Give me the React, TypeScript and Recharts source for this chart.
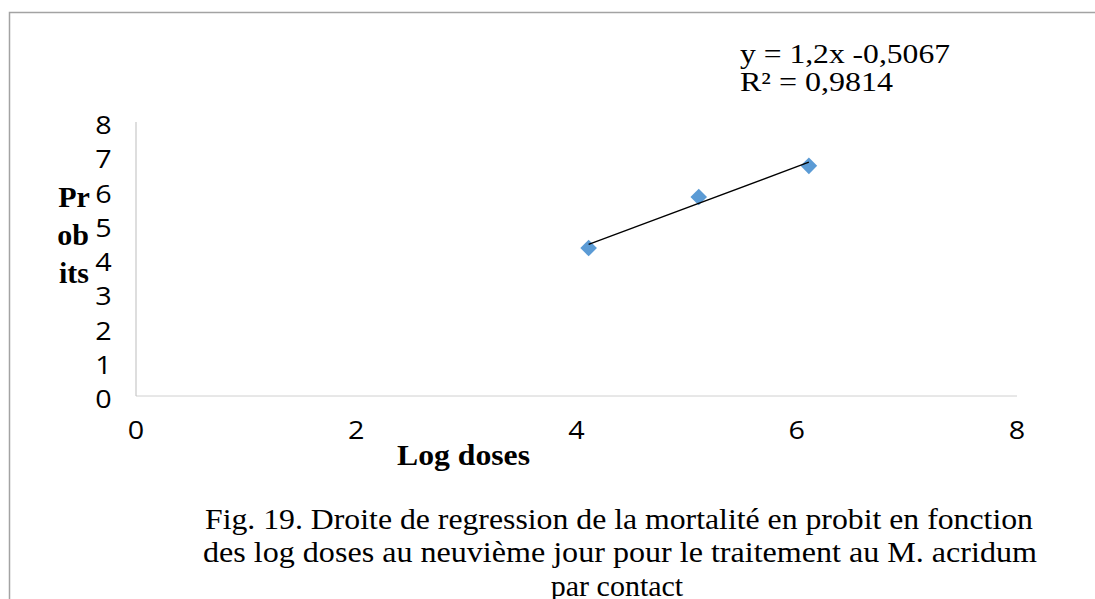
import { Scatter, ScatterChart, XAxis, YAxis } from "recharts";

// probit regression, day 9, M. acridum by contact
const logDoses = [4.11, 5.11, 6.11];
const probits = [4.32, 5.81, 6.72];
const xTicks = [0, 2, 4, 6, 8];
const yTicks = [0, 1, 2, 3, 4, 5, 6, 7, 8];
const slope = 1.2;
const intercept = -0.5067;
const rSquared = 0.9814;
const captionLines = [
  "Fig. 19. Droite de regression de la mortalité en probit en fonction",
  "des log doses au neuvième jour pour le traitement au M. acridum",
  "par contact",
];

const points = logDoses.map((x, i) => ({ x, y: probits[i] }));
const trend = [logDoses[0], logDoses[logDoses.length - 1]].map((x) => ({
  x,
  y: slope * x + intercept,
}));

const comma = (v: number) => String(v).replace(".", ",");
const equation = `y = ${comma(slope)}x -${comma(-intercept)}`;

const serif = "'Liberation Serif', 'Times New Roman', serif";
const sans = "'Open Sans', sans-serif";

const Diamond = (props: any) => {
  const { cx, cy } = props;
  const r = 8.3;
  return (
    <polygon
      points={`${cx},${cy - r} ${cx + r},${cy} ${cx},${cy + r} ${cx - r},${cy}`}
      fill="#5B9BD5"
    />
  );
};

const NoDot = () => <g />;

const XTick = (props: any) => {
  const { x, y, payload } = props;
  return (
    <text
      transform={`translate(${x},${y + 33}) scale(1.15,1)`}
      textAnchor="middle"
      dominantBaseline="central"
      fontFamily={sans}
      fontSize={25}
      fill="#000"
    >
      {payload.value}
    </text>
  );
};

const YTick = (props: any) => {
  const { x, y, payload } = props;
  return (
    <text
      transform={`translate(${x - 32.5},${y + 2.5}) scale(1.15,1)`}
      textAnchor="middle"
      dominantBaseline="central"
      fontFamily={sans}
      fontSize={25}
      fill="#000"
    >
      {payload.value}
    </text>
  );
};

export default function App() {
  return (
    <div style={{ position: "absolute", left: 0, top: 0, background: "#fff" }}>
      <ScatterChart
        width={1095}
        height={599}
        margin={{ top: 122, right: 78, bottom: 163, left: 96 }}
      >
        {/* outer frame, only the top and left edges fall inside the page */}
        <path
          d="M9.5 620 V12.5 H1120"
          fill="none"
          stroke="#a3a3a3"
          strokeWidth={1.5}
        />
        <XAxis
          type="number"
          dataKey="x"
          domain={[0, 8]}
          ticks={xTicks}
          interval={0}
          height={40}
          stroke="#d0d0d0"
          tickLine={false}
          tickSize={0}
          tickMargin={0}
          tick={<XTick />}
        />
        <YAxis
          type="number"
          dataKey="y"
          domain={[0, 8]}
          ticks={yTicks}
          interval={0}
          width={40}
          stroke="#bdbdbd"
          tickLine={false}
          tickSize={0}
          tickMargin={0}
          tick={<YTick />}
        />
        <Scatter
          data={points}
          shape={<Diamond />}
          isAnimationActive={false}
        />
        <Scatter
          data={trend}
          line={{ stroke: "#000", strokeWidth: 1.3 }}
          shape={<NoDot />}
          isAnimationActive={false}
        />

        <g fontFamily={serif} fontWeight="bold" fontSize={30} fill="#000">
          <text x={74} y={207} textAnchor="middle">Pr</text>
          <text x={73} y={245} textAnchor="middle">ob</text>
          <text x={74} y={283} textAnchor="middle">its</text>
          <text x={463.5} y={465} textAnchor="middle" textLength={133} lengthAdjust="spacingAndGlyphs">
            Log doses
          </text>
        </g>

        <g fontFamily={serif} fontSize={27} fill="#000">
          <text x={740} y={63} textLength={210} lengthAdjust="spacingAndGlyphs">
            {equation}
          </text>
          <text x={740} y={91} textLength={153} lengthAdjust="spacingAndGlyphs">
            {`R² = ${comma(rSquared)}`}
          </text>
        </g>

        <g fontFamily={serif} fontSize={30} fill="#000" textAnchor="middle">
          <text x={619} y={529} textLength={828} lengthAdjust="spacingAndGlyphs">
            {captionLines[0]}
          </text>
          <text x={620} y={562} textLength={834} lengthAdjust="spacingAndGlyphs">
            {captionLines[1]}
          </text>
          <text x={617} y={596}>
            {captionLines[2]}
          </text>
        </g>
      </ScatterChart>
    </div>
  );
}
